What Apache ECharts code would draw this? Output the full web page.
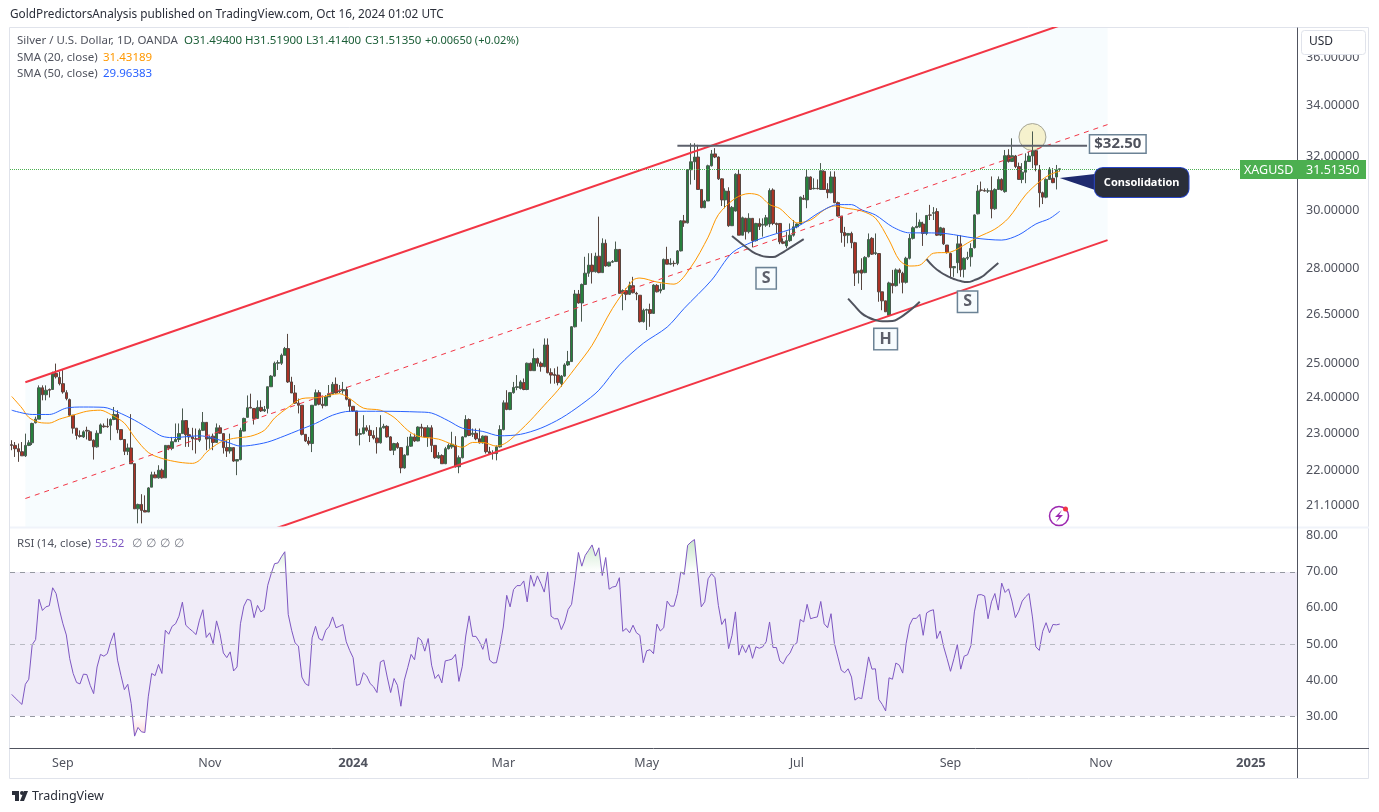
<!DOCTYPE html>
<html>
<head>
<meta charset="utf-8">
<title>XAGUSD</title>
<script src="https://cdn.jsdelivr.net/npm/echarts@6/dist/echarts.min.js"></script>
<style>
html, body { margin: 0; padding: 0; background: #fff; }
#chart { width: 1379px; height: 812px; }
</style>
</head>
<body>
<div id="chart"></div>
<script>
const barSlots = 377;
const categories = Array.from({length: barSlots}, (_, i) => i);
const tickIndices = [15, 58, 100, 144, 186, 230, 275, 319, 363];
const tickLabels = ['Sep', 'Nov', '2024', 'Mar', 'May', 'Jul', 'Sep', 'Nov', '2025'];
const priceTicks = [21.1, 22, 23, 24, 25, 26.5, 28, 30, 32, 34, 36];
const rsiTicks = [30, 40, 50, 60, 70, 80];

const opens = [
  22.69,22.67,22.58,22.50,22.39,22.67,22.74,23.29,23.39,24.28,
  24.08,24.23,24.23,24.70,24.58,24.40,24.14,23.94,23.50,23.14,
  22.94,22.90,23.08,23.04,22.81,22.63,23.00,23.20,23.19,23.22,
  23.38,23.52,23.10,22.83,22.51,22.60,22.18,21.02,21.13,20.98,
  20.94,21.57,21.89,21.81,22.01,21.81,22.67,22.59,22.77,22.83,
  22.99,23.35,22.96,22.90,22.85,22.81,23.08,23.30,22.85,22.92,
  22.75,23.15,22.99,22.61,22.52,22.61,22.25,22.29,23.06,23.44,
  23.72,
  23.69,23.41,23.72,23.62,23.69,24.31,24.62,25.00,25.00,25.24,
  25.44,24.45,24.13,23.84,23.78,22.97,22.79,22.72,23.78,24.14,
  23.81,23.77,24.02,24.11,24.38,24.17,24.19,24.23,23.95,23.75,
  23.62,22.97,22.99,23.15,23.08,22.94,22.87,22.74,23.15,23.19,
  22.90,22.54,22.72,22.61,22.07,22.41,22.65,22.90,22.79,23.17,
  23.15,22.90,23.15,22.67,22.33,22.40,22.18,22.58,22.63,22.67,
  22.10,22.34,22.90,23.38,22.97,23.00,22.85,22.74,22.92,22.50,
  22.45,22.45,22.63,23.10,23.85,23.66,24.14,
  24.29,24.26,24.43,24.23,25.00,24.78,25.14,25.00,24.90,25.55,
  24.72,24.67,24.65,24.40,24.62,24.95,25.05,26.11,27.15,26.86,
  27.46,27.83,28.10,27.88,28.40,27.85,28.84,28.07,28.20,28.22,
  28.63,27.17,27.26,27.14,27.42,27.17,27.11,26.27,26.63,26.65,
  26.53,27.43,27.25,27.30,28.29,28.13,
  28.16,
  28.16,28.58,29.62,29.55,31.48,31.78,31.96,30.75,30.09,30.33,
  31.63,32.08,31.96,31.14,30.37,30.69,29.45,29.97,31.31,29.12,
  29.71,29.24,29.71,28.93,29.53,29.47,29.47,
  29.51,30.73,29.53,29.53,28.89,28.75,28.93,29.12,29.41,29.51,
  30.43,30.37,31.21,30.78,30.79,30.75,31.42,30.75,30.63,31.21,
  30.27,29.79,29.21,29.12,29.18,28.86,27.85,27.94,27.85,28.38,
  29.01,28.49,28.49,27.22,26.93,26.47,27.49,27.42,27.94,27.83,
  27.53,28.33,29.01,29.38,29.41,29.51,29.18,29.83,29.89,29.95,
  29.12,29.36,28.78,28.49,28.01,28.18,28.82,27.96,28.33,28.38,
  28.69,29.87,30.73,30.71,
  30.69,
  30.71,30.05,30.75,31.12,30.67,32.03,31.79,
  32.00,31.60,31.12,31.39,31.79,32.00,32.20,31.48,30.63,30.47,31.12,31.16,31.21,31.494
];
const highs = [
  22.81,22.76,22.72,22.76,22.99,22.81,23.29,23.46,24.35,24.35,
  24.35,24.26,24.75,24.99,24.75,24.80,24.21,23.97,23.50,23.14,
  23.08,23.08,23.18,23.08,22.83,23.08,23.27,23.27,23.41,23.41,
  23.73,23.64,23.10,22.83,22.72,23.53,22.18,21.15,21.39,21.36,
  21.57,21.97,21.97,22.14,22.05,22.68,22.67,22.90,23.27,23.27,
  23.69,23.35,23.15,23.15,23.13,23.13,23.59,23.30,22.94,22.99,
  23.27,23.22,22.99,22.81,22.99,22.61,22.29,23.15,23.43,24.06,
  24.11,
  23.69,23.92,23.92,23.76,24.31,24.65,25.05,25.09,25.29,25.49,
  25.89,24.60,24.36,23.97,23.78,22.97,22.90,23.78,24.23,24.21,
  24.02,24.07,24.36,24.45,24.58,24.36,24.45,24.31,23.95,23.75,
  23.62,23.13,23.50,23.22,23.22,23.08,23.17,23.50,23.26,23.22,
  22.92,22.74,22.76,22.61,22.43,22.90,22.99,22.99,23.19,23.26,
  23.15,23.22,23.22,22.67,22.49,22.43,22.63,22.72,23.04,22.92,
  22.40,22.92,23.50,23.41,23.13,23.13,23.13,22.94,22.93,22.63,
  22.54,22.67,23.22,23.92,24.21,24.16,24.45,
  24.65,24.50,24.55,25.02,25.02,25.44,25.17,25.05,25.75,25.75,
  24.85,24.85,24.90,24.65,25.00,25.37,26.13,27.28,27.28,27.49,
  28.38,28.50,28.50,28.52,29.77,29.01,28.97,28.21,28.27,28.90,
  28.63,27.30,27.33,27.55,27.71,27.22,27.11,26.68,26.68,26.84,
  27.47,27.47,27.49,28.32,28.72,28.33,
  28.25,
  28.61,29.65,29.83,31.50,32.49,32.49,32.43,30.75,30.37,31.67,
  32.23,32.30,31.98,31.16,30.79,30.83,30.15,31.35,31.50,29.77,
  29.73,29.89,29.71,29.55,29.71,29.71,29.83,
  30.79,30.79,29.56,29.53,29.01,29.24,29.53,29.65,29.53,30.49,
  30.55,31.48,31.23,31.16,31.12,31.73,31.46,30.98,31.42,31.42,
  30.31,29.79,29.41,29.18,29.24,28.89,27.91,28.33,28.40,29.18,
  29.05,29.18,28.49,27.22,26.93,27.55,27.94,27.99,27.99,27.88,
  28.38,29.16,29.43,29.91,29.67,29.59,29.83,30.19,30.11,30.07,
  29.41,29.38,28.78,28.52,28.05,29.12,29.12,28.36,28.55,28.84,
  29.85,30.91,31.04,30.79,
  30.79,
  31.23,30.79,31.23,31.16,32.23,32.26,32.68,
  32.04,31.75,31.73,32.10,32.16,32.95,32.23,31.66,30.67,31.16,31.58,31.54,31.66,31.519
];
const lows = [
  22.54,22.36,22.23,22.39,22.36,22.65,22.68,23.27,23.39,23.92,
  23.92,24.00,24.23,24.55,24.35,24.11,23.92,23.47,22.99,22.83,
  22.88,22.87,22.83,22.79,22.29,22.61,22.99,23.15,23.15,22.81,
  23.36,23.00,22.81,22.41,22.41,22.18,21.02,20.66,20.66,20.94,
  20.94,21.57,21.81,21.79,21.79,21.81,22.54,22.54,22.76,22.76,
  22.99,22.63,22.63,22.54,22.45,22.76,23.06,22.54,22.58,22.54,
  22.75,22.99,22.45,22.36,22.45,22.23,21.88,22.27,23.05,23.44,
  23.70,
  23.24,23.41,23.59,23.59,23.55,24.31,24.60,24.80,24.95,25.24,
  24.42,24.13,23.82,23.55,22.94,22.76,22.67,22.49,23.78,23.78,
  23.69,23.75,24.02,24.11,24.11,24.13,24.11,23.92,23.59,23.59,
  22.92,22.67,22.97,23.04,22.76,22.83,22.45,22.72,23.13,22.88,
  22.52,22.41,22.58,21.93,22.05,22.41,22.63,22.76,22.78,22.90,
  22.88,22.63,22.49,22.31,22.31,22.18,22.17,22.56,22.58,22.08,
  21.93,22.32,22.90,22.92,22.90,22.81,22.72,22.72,22.45,22.43,
  22.29,22.27,22.61,23.08,23.64,23.64,24.11,
  24.21,24.23,24.21,24.21,24.78,24.78,24.90,24.75,24.88,24.70,
  24.40,24.40,24.35,24.31,24.60,24.92,25.05,26.09,26.84,26.27,
  27.44,27.71,27.49,27.85,27.83,27.85,28.05,28.05,28.18,28.21,
  27.17,26.63,26.95,27.12,27.17,26.95,26.24,26.24,26.01,26.11,
  26.51,27.20,27.17,27.28,28.13,28.10,
  28.05,
  28.10,28.56,29.41,29.53,30.93,31.10,30.73,30.07,30.07,30.33,
  31.60,31.92,31.10,30.15,30.07,29.41,29.44,29.95,29.12,29.12,
  28.97,29.18,28.70,28.90,29.30,29.07,29.41,
  29.40,29.47,29.18,28.81,28.81,28.67,28.89,29.07,29.36,29.51,
  30.37,30.07,30.73,30.75,30.75,30.73,30.73,30.43,30.61,30.25,
  29.77,28.86,28.72,28.84,28.67,27.41,27.49,27.28,27.83,28.36,
  28.44,28.44,26.90,26.63,26.58,26.45,27.17,27.39,27.49,27.17,
  27.49,28.29,28.97,29.38,29.38,28.75,29.12,29.65,29.65,29.09,
  29.09,28.78,28.49,27.66,27.71,27.83,27.71,27.69,28.27,28.05,
  28.66,29.85,30.67,30.67,
  30.62,
  29.71,30.01,30.73,30.71,30.63,31.75,31.77,
  31.54,31.10,30.98,30.98,31.79,31.54,31.42,30.10,30.22,30.43,31.10,30.98,30.75,31.414
];
const closes = [
  22.67,22.58,22.50,22.39,22.67,22.74,23.27,23.39,24.28,24.08,
  24.21,24.21,24.70,24.60,24.40,24.16,23.97,23.50,23.14,22.94,
  22.91,23.04,23.06,22.81,22.63,23.00,23.23,23.18,23.18,23.38,
  23.52,23.10,22.83,22.51,22.60,22.18,21.02,21.13,20.98,20.94,
  21.55,21.89,21.81,22.01,21.81,22.67,22.59,22.77,22.83,22.99,
  23.35,22.96,22.90,22.85,22.84,23.08,23.30,22.84,22.90,22.75,
  23.15,23.00,22.61,22.52,22.61,22.25,22.29,23.08,23.41,23.71,
  23.70,
  23.41,23.72,23.62,23.66,24.31,24.62,25.00,25.02,25.24,25.44,
  24.45,24.13,23.84,23.78,22.97,22.79,22.72,23.78,24.14,23.81,
  23.77,24.02,24.11,24.38,24.13,24.19,24.23,23.95,23.75,23.62,
  22.94,22.99,23.15,23.08,22.94,22.87,22.74,23.15,23.19,22.90,
  22.54,22.72,22.61,22.07,22.41,22.65,22.90,22.79,23.17,23.14,
  22.90,23.15,22.67,22.34,22.40,22.18,22.58,22.67,22.70,22.10,
  22.34,22.90,23.38,22.94,23.00,22.85,22.74,22.92,22.50,22.45,
  22.46,22.63,23.10,23.85,23.66,24.14,24.29,
  24.31,24.45,24.23,25.00,24.78,25.14,25.00,24.90,25.55,24.72,
  24.65,24.64,24.43,24.62,24.95,25.05,26.11,27.15,26.86,27.46,
  27.83,28.10,27.88,28.40,27.85,28.84,28.07,28.20,28.22,28.63,
  27.17,27.26,27.14,27.44,27.19,27.15,26.27,26.63,26.65,26.53,
  27.44,27.22,27.30,28.29,28.13,28.16,
  28.15,
  28.58,29.62,29.55,31.48,31.78,31.96,30.75,30.09,30.33,31.63,
  32.08,31.96,31.14,30.37,30.69,29.45,30.10,31.31,29.12,29.73,
  29.24,29.71,28.93,29.53,29.42,29.50,29.73,
  30.71,29.53,29.49,28.89,28.84,28.93,29.12,29.41,29.51,30.47,
  30.39,31.21,30.75,30.79,30.78,31.44,30.75,30.63,31.21,30.27,
  29.79,29.21,29.10,29.18,28.86,27.83,27.91,27.83,28.36,28.97,
  28.47,28.52,27.22,26.93,26.58,27.51,27.42,27.94,27.85,27.53,
  28.33,29.01,29.38,29.43,29.57,29.18,29.81,29.82,29.91,29.12,
  29.38,28.82,28.52,28.01,28.05,28.82,27.94,28.33,28.36,28.66,
  29.83,30.69,30.72,30.69,
  30.70,
  30.05,30.75,31.12,30.73,32.01,31.79,32.01,
  31.60,31.12,31.39,31.81,32.00,32.20,31.66,30.63,30.47,31.12,31.50,31.00,31.48,31.5135
];

// moving averages are read at spaced bars: [bar index, value]
const sma20 = [[0,24.03],[3,23.70],[5,23.44],[8,23.30],[11,23.28],[14,23.39],[18,23.50],[22,23.61],[26,23.64],[29,23.52],[33,23.28],[36,22.89],[40,22.48],[44,22.32],[49,22.22],[53,22.19],[55,22.27],[57,22.48],[61,22.75],[65,22.86],[70,22.92],[74,23.08],[77,23.42],[81,23.72],[85,23.97],[90,24.00],[96,24.11],[99,23.97],[103,23.70],[108,23.64],[112,23.44],[116,23.08],[119,22.92],[125,22.84],[129,22.70],[132,22.62],[135,22.75],[138,22.75],[142,22.65],[145,22.75],[149,23.08],[152,23.36],[156,23.78],[160,24.21],[165,24.85],[170,25.54],[176,26.69],[182,27.60],[184,27.67],[189,27.54],[194,27.47],[199,28.04],[204,29.05],[207,29.84],[212,30.43],[216,30.60],[219,30.53],[222,30.20],[225,30.06],[228,29.72],[230,29.55],[234,29.65],[238,30.01],[241,30.15],[244,30.08],[249,29.97],[253,29.72],[257,28.95],[260,28.27],[263,28.07],[266,28.10],[270,28.50],[275,28.54],[280,28.85],[283,29.05],[288,29.33],[292,29.72],[297,30.55],[301,31.03],[304,31.29],[307,31.43]];
const sma50 = [[0,23.64],[6,23.52],[11,23.52],[16,23.70],[21,23.73],[27,23.72],[31,23.59],[36,23.36],[41,23.08],[44,22.92],[47,22.88],[55,22.93],[63,22.76],[67,22.65],[70,22.67],[75,22.76],[80,22.93],[84,23.08],[89,23.27],[94,23.50],[99,23.61],[109,23.61],[119,23.59],[123,23.56],[128,23.34],[132,23.14],[138,23.05],[143,22.93],[149,22.97],[155,23.14],[161,23.42],[167,23.81],[172,24.21],[178,24.95],[185,25.60],[192,26.10],[197,26.69],[205,27.60],[211,28.51],[217,28.89],[222,29.10],[230,29.41],[237,29.95],[242,30.20],[246,30.20],[249,30.01],[253,29.83],[258,29.41],[263,29.20],[268,29.20],[274,29.17],[282,29.02],[290,28.95],[295,29.13],[300,29.51],[304,29.70],[307,29.96]];

const rsi = [
  36.0,35.0,34.1,33.2,38.8,40.2,49.8,51.2,62.4,59.3,60.3,60.6,65.6,64.0,59.4,55.6,52.5,45.9,41.8,39.3,
  38.9,41.6,41.5,38.5,36.2,43.6,47.1,46.6,47.3,50.6,53.1,45.5,41.3,37.3,38.8,33.4,24.4,26.8,25.6,25.4,
  35.3,41.8,41.2,44.3,41.8,53.8,52.7,54.9,55.6,57.7,61.6,55.2,54.3,53.5,52.6,56.6,59.5,51.8,53.1,50.1,
  56.4,52.9,47.5,46.2,47.8,42.5,43.6,55.6,60.5,62.4,62.1,57.3,60.7,58.9,59.6,66.3,69.5,72.3,72.5,74.2,
  75.6,58.2,53.8,50.3,49.4,40.8,39.0,38.4,51.7,54.9,51.5,51.0,53.8,54.9,57.5,54.5,54.9,55.4,50.6,48.2,
  46.2,38.5,38.8,42.0,41.1,39.0,38.1,36.5,45.0,45.5,40.8,36.5,40.4,38.5,32.7,39.9,43.4,47.1,45.6,51.8,
  51.0,48.0,51.5,44.1,40.4,41.5,39.2,45.3,45.5,45.8,47.1,39.6,43.8,52.2,57.8,52.1,52.1,50.6,48.5,51.5,
  45.5,44.7,44.8,49.2,54.7,63.5,60.3,65.1,66.2,66.2,67.5,61.7,
  69.1,66.0,68.9,66.8,64.4,70.0,57.7,57.0,57.0,54.0,56.1,59.6,61.0,67.7,75.4,71.6,74.6,76.0,77.5,74.4,
  76.7,69.0,74.0,65.2,65.8,66.0,68.4,53.5,54.3,53.1,55.2,53.1,52.4,44.8,48.1,48.4,47.3,55.5,53.6,54.5,
  61.9,60.5,60.5,64.0,70.0,69.3,77.4,78.3,79.0,69.5,60.3,61.7,68.1,69.5,68.4,60.7,55.4,57.0,48.7,52.4,
  58.9,46.9,49.6,47.6,49.8,46.0,49.2,48.8,49.2,50.6,56.1,49.0,49.0,45.3,44.5,46.4,47.5,49.6,50.3,56.8,
  56.1,61.0,57.0,57.3,57.5,61.8,55.6,54.5,58.4,50.1,46.4,42.7,42.0,43.1,40.8,34.4,35.1,34.8,40.4,46.4,
  43.0,43.1,34.6,33.2,31.4,40.6,40.2,44.7,44.1,41.9,50.1,55.2,57.1,57.1,58.2,52.4,58.6,59.2,59.5,51.5,
  53.6,49.2,45.9,42.4,45.9,49.8,43.0,46.6,47.0,49.6,58.9,63.6,63.7,63.3,57.0,61.7,64.0,59.4,66.9,64.3,
  65.3,61.9,57.3,59.1,61.9,63.1,64.0,57.5,49.2,48.2,53.5,55.9,53.1,55.4,55.3,55.52
];

// drawings on the chart, as [bar index, price]
const channelTop = [[4,24.44],[321,38.12]];
const channelMid = [[4,21.28],[321,33.22]];
const channelBottom = [[4,18.52],[321,28.95]];
const necklineLevel = [[195,32.39],[315,32.39]];
const arcLeft = [[211,29.09],[213,28.90],[215,28.72],[217,28.55],[219,28.44],[221,28.38],[223,28.37],[225,28.47],[227,28.61],[229,28.76],[232,28.98]];
const arcHead = [[245,27.00],[247,26.76],[249,26.53],[251,26.40],[253,26.32],[255,26.28],[258,26.29],[260,26.38],[262,26.53],[264,26.70],[266,26.90]];
const arcRight = [[268,28.30],[270,28.05],[272,27.87],[274,27.74],[276,27.64],[278,27.57],[280,27.54],[282,27.60],[284,27.70],[286,27.88],[289,28.17]];
const patternLabels = [[221,27.66,'S'],[256,25.73,'H'],[280,26.90,'S']];
const levelLabel = [324,32.46,'$32.50'];
const calloutLabel = [331,31.01,'Consolidation'];
const calloutPointer = [[307,31.17],[318,31.33],[318,30.70]];
const highlightCircle = [299,32.73];

const lastPrice = 31.5135;
const textFont = '"Noto Sans", sans-serif';
const red = '#f23645';
const grey = '#50535e';

const chart = echarts.init(document.getElementById('chart'));

const polygonSeries = (points, color, z) => ({
  type: 'custom',
  xAxisIndex: 0,
  yAxisIndex: 0,
  clip: true,
  silent: true,
  z: z,
  data: [0],
  renderItem: (params, api) => ({
    type: 'polygon',
    shape: {points: points.map(p => api.coord(p))},
    style: {fill: color}
  })
});

const lineSeries = (data, color, width, extra) => Object.assign({
  type: 'line',
  xAxisIndex: 0,
  yAxisIndex: 0,
  data: data,
  showSymbol: false,
  silent: true,
  clip: true,
  lineStyle: {color: color, width: width},
  z: 4
}, extra);

const boxLabel = (item, label) => ({
  value: [item[0], item[1]],
  label: Object.assign({show: true, position: 'inside', formatter: item[2]}, label)
});

const option = {
  animation: false,
  backgroundColor: '#fff',
  textStyle: {fontFamily: textFont},
  grid: [
    {left: 10, top: 28, width: 1287, height: 499},
    {left: 10, top: 528, width: 1287, height: 220}
  ],
  xAxis: [
    {
      type: 'category', gridIndex: 0, data: categories,
      axisLine: {show: false}, axisTick: {show: false}, axisLabel: {show: false}, splitLine: {show: false}
    },
    {
      type: 'category', gridIndex: 1, data: categories,
      axisLine: {lineStyle: {color: grey, width: 1}},
      axisTick: {show: false},
      splitLine: {show: false},
      axisLabel: {
        margin: 9,
        color: '#50535e',
        fontSize: 12.5,
        fontFamily: textFont,
        interval: idx => tickIndices.includes(idx),
        formatter: (value, idx) => {
          const label = tickLabels[tickIndices.indexOf(idx)] || '';
          return /^\d+$/.test(label) ? '{b|' + label + '}' : label;
        },
        rich: {b: {fontWeight: 'bold', fontSize: 13, color: '#50535e', fontFamily: textFont}}
      }
    }
  ],
  yAxis: [
    {
      type: 'log', gridIndex: 0, position: 'right', logBase: Math.E, min: 20.57, max: 37.27,
      axisLine: {show: true, lineStyle: {color: grey}},
      axisTick: {show: false},
      splitLine: {show: false},
      axisLabel: {
        customValues: priceTicks,
        margin: 9,
        padding: [3, 0, 0, 0],
        color: '#50535e',
        fontSize: 12.5,
        fontFamily: textFont,
        formatter: v => Number(v).toFixed(5)
      }
    },
    {
      type: 'value', gridIndex: 1, position: 'right', min: 21.1, max: 82.2,
      axisLine: {show: true, lineStyle: {color: grey}},
      axisTick: {show: false},
      splitLine: {show: false},
      axisLabel: {
        customValues: rsiTicks,
        margin: 9,
        padding: [2, 0, 0, 0],
        color: '#50535e',
        fontSize: 12.5,
        fontFamily: textFont,
        formatter: v => Number(v).toFixed(2)
      }
    }
  ],
  series: [
    polygonSeries([channelTop[0], channelTop[1], channelBottom[1], channelBottom[0]], '#f7fcfe', 1),
    {
      type: 'scatter', xAxisIndex: 0, yAxisIndex: 0, silent: true, z: 2,
      symbolSize: 27,
      itemStyle: {color: '#f5f1cd', borderColor: '#a5a596', borderWidth: 1, opacity: 1},
      data: [highlightCircle]
    },
    {
      type: 'candlestick',
      xAxisIndex: 0,
      yAxisIndex: 0,
      silent: true,
      z: 3,
      barWidth: 3,
      data: closes.map((c, i) => [opens[i], c, lows[i], highs[i]]),
      itemStyle: {
        color: '#26803c',
        color0: '#a93226',
        borderColor: '#4b5a50',
        borderColor0: '#574640',
        borderWidth: 1
      },
      markLine: {
        silent: true,
        symbol: 'none',
        label: {show: false},
        lineStyle: {color: '#4caf50', type: 'dotted', width: 1},
        data: [{yAxis: lastPrice}]
      }
    },
    lineSeries(sma20, '#ff9800', 1, {smooth: 0.3}),
    lineSeries(sma50, '#2962ff', 1, {smooth: 0.3}),
    lineSeries(channelTop, red, 2, {z: 5}),
    lineSeries(channelBottom, red, 2, {z: 5}),
    lineSeries(channelMid, red, 1, {z: 5, lineStyle: {color: red, width: 1, type: [5, 5]}}),
    lineSeries(necklineLevel, '#5d606b', 2, {z: 5}),
    lineSeries(arcLeft, '#50535e', 2, {z: 5, smooth: 0.5}),
    lineSeries(arcHead, '#50535e', 2, {z: 5, smooth: 0.5}),
    lineSeries(arcRight, '#50535e', 2, {z: 5, smooth: 0.5}),
    polygonSeries(calloutPointer, '#1e2a6e', 6),
    {
      type: 'scatter', xAxisIndex: 0, yAxisIndex: 0, silent: true, z: 7,
      symbolSize: 0,
      itemStyle: {opacity: 1},
      data: patternLabels.map(p => boxLabel(p, {
        color: '#5d606b', fontSize: 16, fontWeight: 'bold', fontFamily: textFont, backgroundColor: '#f7fcfe',
        borderColor: '#6b8295', borderWidth: 1.5, padding: [2, 5]
      })).concat([
        boxLabel(levelLabel, {
          color: '#50535e', fontSize: 15, fontWeight: 'bold', fontFamily: textFont, backgroundColor: '#fff',
          borderColor: '#6b8295', borderWidth: 1.5, padding: [1, 4]
        }),
        boxLabel(calloutLabel, {
          color: '#fff', fontSize: 11, fontWeight: 'bold', fontFamily: textFont, backgroundColor: '#2a2e39',
          borderColor: '#2946c8', borderWidth: 1, borderRadius: 8, padding: [9, 9]
        })
      ])
    },
    {
      type: 'line', xAxisIndex: 1, yAxisIndex: 1, data: rsi, showSymbol: false, silent: true, z: 4,
      lineStyle: {color: '#7e57c2', width: 1},
      markArea: {
        silent: true,
        itemStyle: {color: '#f0ecf8', opacity: 1},
        data: [[{yAxis: 30}, {yAxis: 70}]]
      },
      markLine: {
        silent: true,
        symbol: 'none',
        label: {show: false},
        lineStyle: {color: '#9598a1', type: [5, 5], width: 1},
        data: [{yAxis: 70}, {yAxis: 50, lineStyle: {color: '#b8bac2'}}, {yAxis: 30}]
      }
    },
    {
      type: 'line', xAxisIndex: 1, yAxisIndex: 1, showSymbol: false, silent: true, z: 3,
      data: rsi.map(v => Math.max(v, 70)),
      lineStyle: {opacity: 0},
      areaStyle: {
        origin: 70,
        opacity: 1,
        color: new echarts.graphic.LinearGradient(0, 0, 0, 1, [
          {offset: 0, color: 'rgba(76,175,80,0.3)'},
          {offset: 1, color: 'rgba(76,175,80,0)'}
        ])
      }
    },
    {
      type: 'line', xAxisIndex: 1, yAxisIndex: 1, showSymbol: false, silent: true, z: 3,
      data: rsi.map(v => Math.min(v, 30)),
      lineStyle: {opacity: 0},
      areaStyle: {
        origin: 30,
        opacity: 1,
        color: new echarts.graphic.LinearGradient(0, 1, 0, 0, [
          {offset: 0, color: 'rgba(242,54,69,0.2)'},
          {offset: 1, color: 'rgba(242,54,69,0)'}
        ])
      }
    }
  ],
  graphic: [
    // frame around the chart
    {type: 'rect', silent: true, z: 0, shape: {x: 9.5, y: 27.5, width: 1359, height: 751}, style: {fill: 'none', stroke: '#e0e3eb'}},
    {type: 'line', silent: true, z: 20, shape: {x1: 10, y1: 527.5, x2: 1369, y2: 527.5}, style: {stroke: '#f0f3fa', lineWidth: 2}},
    {type: 'line', silent: true, z: 20, shape: {x1: 1297.5, y1: 28, x2: 1297.5, y2: 778}, style: {stroke: grey}},
    {type: 'line', silent: true, z: 20, shape: {x1: 1297, y1: 748.5, x2: 1369, y2: 748.5}, style: {stroke: grey}},
    // header and legend
    {type: 'text', silent: true, z: 20, x: 10, y: 9, style: {text: 'GoldPredictorsAnalysis published on TradingView.com, Oct 16, 2024 01:02 UTC', font: '11.8px ' + textFont, fill: '#2a2e39'}},
    {type: 'text', silent: true, z: 20, x: 17, y: 35, style: {text: 'Silver / U.S. Dollar, 1D, OANDA', font: '11.5px ' + textFont, fill: '#50535e'}},
    {type: 'text', silent: true, z: 20, x: 184, y: 35, style: {text: 'O31.49400', font: '11.5px ' + textFont, fill: '#1b5e37'}},
    {type: 'text', silent: true, z: 20, x: 245, y: 35, style: {text: 'H31.51900', font: '11.5px ' + textFont, fill: '#1b5e37'}},
    {type: 'text', silent: true, z: 20, x: 306, y: 35, style: {text: 'L31.41400', font: '11.5px ' + textFont, fill: '#1b5e37'}},
    {type: 'text', silent: true, z: 20, x: 365, y: 35, style: {text: 'C31.51350', font: '11.5px ' + textFont, fill: '#1b5e37'}},
    {type: 'text', silent: true, z: 20, x: 425, y: 35, style: {text: '+0.00650 (+0.02%)', font: '11px ' + textFont, fill: '#1b5e37'}},
    {type: 'text', silent: true, z: 20, x: 17, y: 52, style: {text: 'SMA (20, close)', font: '11.5px ' + textFont, fill: '#50535e'}},
    {type: 'text', silent: true, z: 20, x: 103, y: 52, style: {text: '31.43189', font: '11.5px ' + textFont, fill: '#ff9800'}},
    {type: 'text', silent: true, z: 20, x: 17, y: 68, style: {text: 'SMA (50, close)', font: '11.5px ' + textFont, fill: '#50535e'}},
    {type: 'text', silent: true, z: 20, x: 103, y: 68, style: {text: '29.96383', font: '11.5px ' + textFont, fill: '#2962ff'}},
    {type: 'text', silent: true, z: 20, x: 17, y: 538, style: {text: 'RSI (14, close)', font: '11.5px ' + textFont, fill: '#50535e'}},
    {type: 'text', silent: true, z: 20, x: 95, y: 538, style: {text: '55.52', font: '11.5px ' + textFont, fill: '#7e57c2'}},
    {type: 'text', silent: true, z: 20, x: 132, y: 538, style: {text: '∅', font: '11.5px ' + textFont, fill: '#787b86'}},
    {type: 'text', silent: true, z: 20, x: 146, y: 538, style: {text: '∅', font: '11.5px ' + textFont, fill: '#787b86'}},
    {type: 'text', silent: true, z: 20, x: 160, y: 538, style: {text: '∅', font: '11.5px ' + textFont, fill: '#787b86'}},
    {type: 'text', silent: true, z: 20, x: 174, y: 538, style: {text: '∅', font: '11.5px ' + textFont, fill: '#787b86'}},
    // USD box
    {type: 'rect', silent: true, z: 20, shape: {x: 1301.5, y: 30.5, width: 64, height: 24, r: 3}, style: {fill: '#fff', stroke: '#e0e3eb'}},
    {type: 'text', silent: true, z: 21, x: 1309, y: 36, style: {text: 'USD', font: '12px ' + textFont, fill: '#2a2e39'}},
    // last price tag
    {type: 'rect', silent: true, z: 20, shape: {x: 1240, y: 160, width: 126, height: 19}, style: {fill: '#4caf50'}},
    {type: 'text', silent: true, z: 21, x: 1244, y: 164, style: {text: 'XAGUSD', font: '12.5px ' + textFont, fill: '#fff'}},
    {type: 'text', silent: true, z: 21, x: 1306, y: 164, style: {text: '31.51350', font: '12.5px ' + textFont, fill: '#fff'}},
    // news icon
    {type: 'circle', silent: true, z: 20, shape: {cx: 1059, cy: 516, r: 9.5}, style: {fill: '#fff', stroke: '#9c27b0', lineWidth: 1.5}},
    {type: 'polygon', silent: true, z: 21, shape: {points: [[1062, 510], [1055, 517], [1059, 517], [1056, 522], [1063, 515], [1059, 515]]}, style: {fill: '#9c27b0'}},
    {type: 'circle', silent: true, z: 22, shape: {cx: 1065.5, cy: 509, r: 2.5}, style: {fill: '#f23645'}},
    // TradingView mark
    {type: 'polygon', silent: true, z: 20, shape: {points: [[12, 791], [19, 791], [19, 801], [15, 801], [15, 795], [12, 795]]}, style: {fill: '#2a2e39'}},
    {type: 'circle', silent: true, z: 20, shape: {cx: 22, cy: 793, r: 2}, style: {fill: '#2a2e39'}},
    {type: 'polygon', silent: true, z: 20, shape: {points: [[24, 791], [28, 791], [24, 801], [20, 801]]}, style: {fill: '#2a2e39'}},
    {type: 'text', silent: true, z: 20, x: 32, y: 790, style: {text: 'TradingView', font: '12.5px ' + textFont, fill: '#2a2e39'}}
  ]
};

chart.setOption(option);
</script>
</body>
</html>
